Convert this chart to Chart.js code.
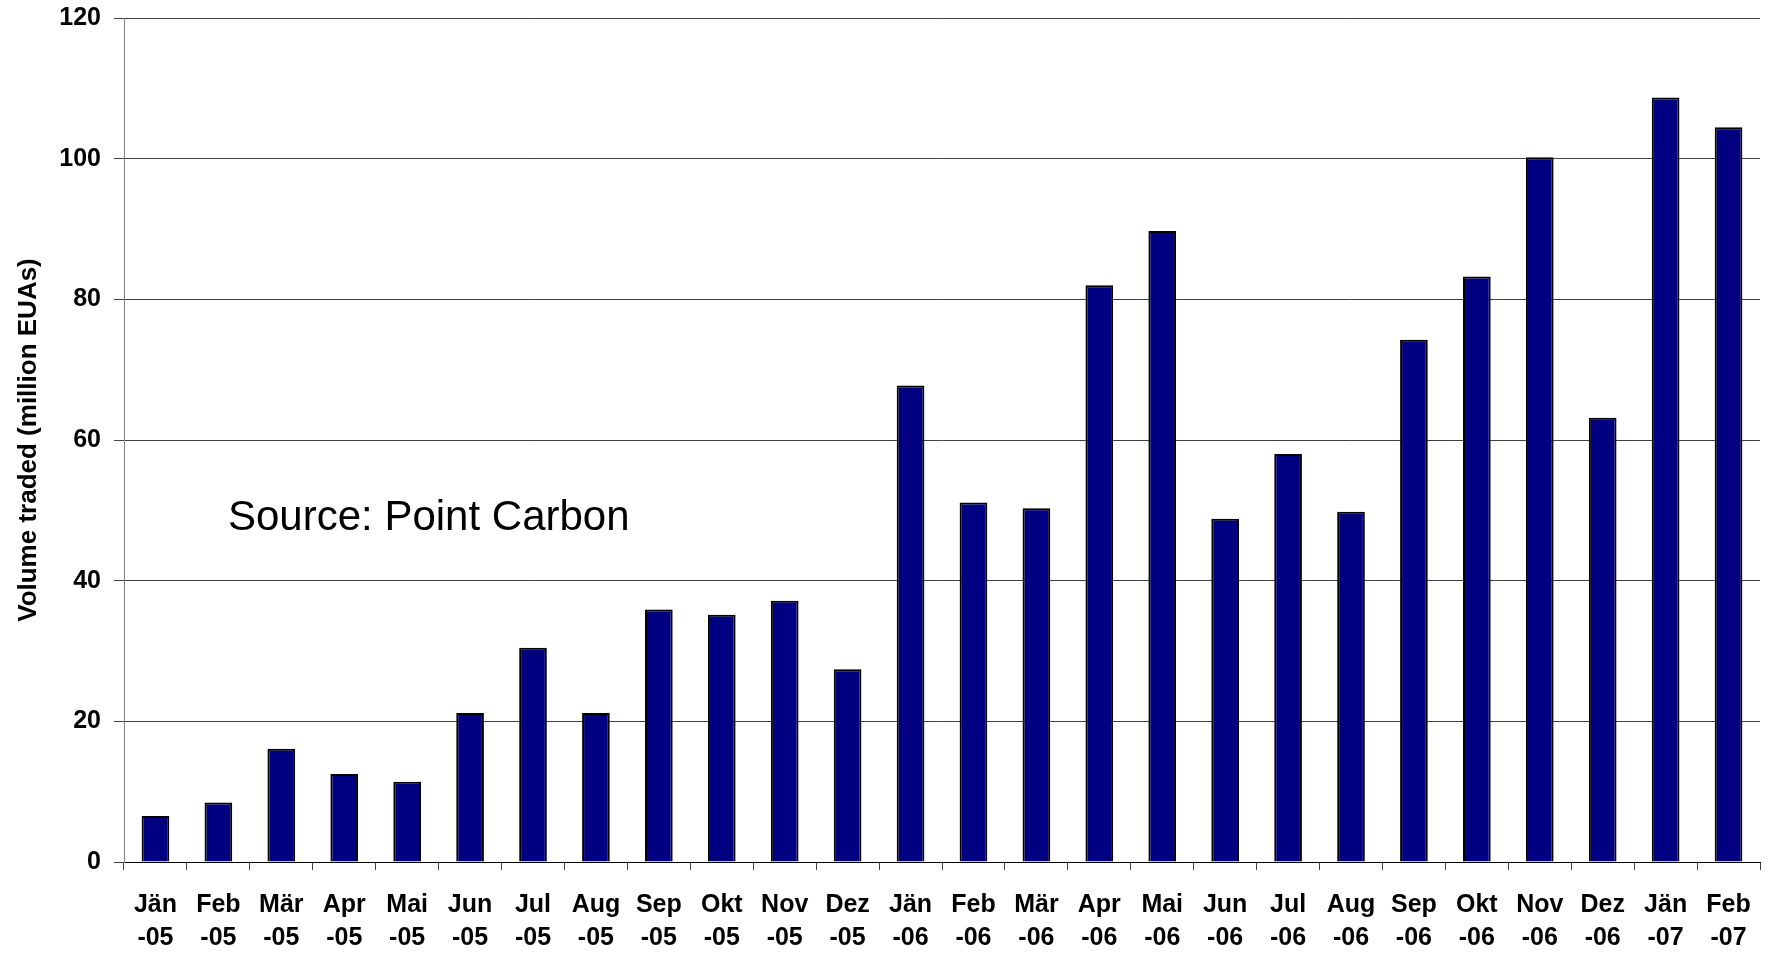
<!DOCTYPE html>
<html>
<head>
<meta charset="utf-8">
<script src="https://cdn.jsdelivr.net/npm/chart.js@4.4.1/dist/chart.umd.min.js"></script>
<style>
  html, body { margin: 0; padding: 0; background: #ffffff; }
  #wrap { width: 1769px; height: 955px; position: relative; }
</style>
</head>
<body>
<div id="wrap"><canvas id="c" width="1769" height="955"></canvas></div>
<script>
// ---- data ----
const monthLabels = ['Jän','Feb','Mär','Apr','Mai','Jun','Jul','Aug','Sep','Okt','Nov','Dez',
                     'Jän','Feb','Mär','Apr','Mai','Jun','Jul','Aug','Sep','Okt','Nov','Dez',
                     'Jän','Feb'];
const yearLabels = ['-05','-05','-05','-05','-05','-05','-05','-05','-05','-05','-05','-05',
                    '-06','-06','-06','-06','-06','-06','-06','-06','-06','-06','-06','-06',
                    '-07','-07'];
const volumes = [6.55, 8.45, 16.1, 12.5, 11.4, 21.2, 30.45, 21.2, 35.9, 35.15, 37.15, 27.4,
                 67.75, 51.1, 50.3, 82.0, 89.7, 48.8, 58.0, 49.8, 74.25, 83.25, 100.2, 63.15,
                 108.7, 104.45];
const yTicks = [0, 20, 40, 60, 80, 100, 120];
const yTitle = 'Volume traded (million EUAs)';
const sourceNote = 'Source: Point Carbon';

const categories = monthLabels.map((m, i) => [m, yearLabels[i]]);
const FONT = '"Liberation Sans", Arial, Helvetica, sans-serif';

const sourcePlugin = {
  id: 'sourceNote',
  afterDraw(chart) {
    const ctx = chart.ctx;
    const a = chart.chartArea;
    ctx.save();
    ctx.font = '42px ' + FONT;
    ctx.fillStyle = '#000';
    ctx.textAlign = 'left';
    ctx.textBaseline = 'alphabetic';
    ctx.fillText(sourceNote, a.left + 104, 530);
    ctx.restore();
  }
};

new Chart(document.getElementById('c'), {
  type: 'bar',
  data: {
    labels: categories,
    datasets: [{
      data: volumes,
      backgroundColor: '#000080',
      borderColor: '#000000',
      borderWidth: 2,
      barPercentage: 0.44,
      categoryPercentage: 1.0
    }]
  },
  options: {
    responsive: false,
    animation: false,
    devicePixelRatio: 1,
    layout: { padding: { top: 18, right: 9, left: 0, bottom: 0 } },
    plugins: {
      legend: { display: false },
      tooltip: { enabled: false },
      title: { display: false }
    },
    scales: {
      x: {
        offset: true,
        grid: {
          offset: true,
          drawOnChartArea: false,
          drawTicks: true,
          tickLength: 8,
          color: '#404040',
          lineWidth: 1
        },
        border: { display: true, color: '#000000', width: 1 },
        ticks: {
          color: '#000',
          font: { family: FONT, size: 25, weight: 'bold', lineHeight: 1.32 },
          padding: 19,
          maxRotation: 0,
          minRotation: 0,
          autoSkip: false
        },
        afterFit(scale) {
          scale.height = 93;
          scale.paddingLeft = 0;
          scale.paddingRight = 0;
        }
      },
      y: {
        min: 0,
        max: 120,
        afterBuildTicks(scale) { scale.ticks = yTicks.map(v => ({ value: v })); },
        grid: {
          color: '#404040',
          lineWidth: 1,
          drawTicks: true,
          tickLength: 10
        },
        border: { display: true, color: '#808080', width: 1 },
        ticks: {
          color: '#000',
          font: { family: FONT, size: 25, weight: 'bold' },
          padding: 13
        },
        title: {
          display: true,
          text: yTitle,
          color: '#000',
          font: { family: FONT, size: 26, weight: 'bold', lineHeight: 1.2 },
          padding: { top: 13, bottom: 0 }
        },
        afterFit(scale) {
          scale.width = 124;
          scale.paddingTop = 0;
          scale.paddingBottom = 0;
        }
      }
    }
  },
  plugins: [sourcePlugin]
});
</script>
</body>
</html>
